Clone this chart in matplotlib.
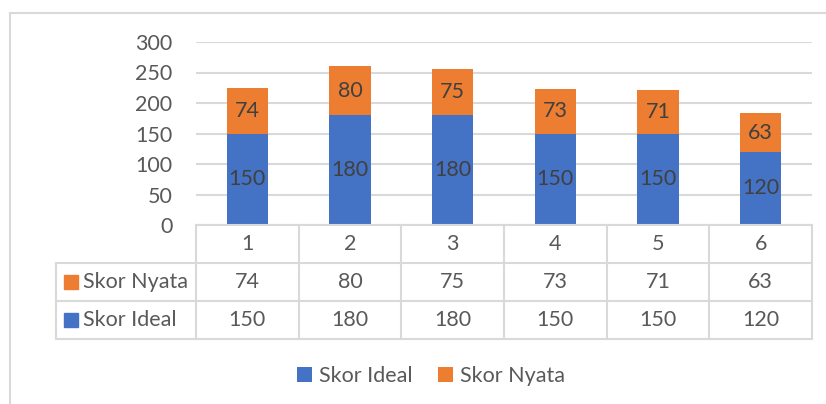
import matplotlib.pyplot as plt
from matplotlib.patches import Rectangle
from matplotlib.lines import Line2D

# data
categories = ["1", "2", "3", "4", "5", "6"]
skor_ideal = [150, 180, 180, 150, 150, 120]
skor_nyata = [74, 80, 75, 73, 71, 63]

BLUE = "#4472C4"
ORANGE = "#ED7D31"
GRID = "#D9D9D9"
TXT = "#595959"
LBL = "#404040"
FS = 15.5

plt.rcParams["font.family"] = ["Lato", "DejaVu Sans"]

W, H = 826, 404
fig = plt.figure(figsize=(W / 100, H / 100), dpi=100)


def box(x0, y0, x1, y1):
    # pixel box (top-left origin) -> figure fraction rect
    return [x0 / W, 1 - y1 / H, (x1 - x0) / W, (y1 - y0) / H]


# outer chart border (cut off at right and bottom)
fig.add_artist(Line2D([10 / W, 1], [1 - 13 / H] * 2, color=GRID, lw=1.5))
fig.add_artist(Line2D([10 / W] * 2, [0, 1 - 13 / H], color=GRID, lw=1.5))

# bars
ax = fig.add_axes(box(196, 42, 812, 225))
x = list(range(len(categories)))
b1 = ax.bar(x, skor_ideal, width=0.4, color=BLUE, label="Skor Ideal", zorder=3)
b2 = ax.bar(x, skor_nyata, width=0.4, bottom=skor_ideal, color=ORANGE,
            label="Skor Nyata", zorder=3)
ax.bar_label(b1, label_type="center", fontsize=FS, color=LBL)
ax.bar_label(b2, label_type="center", fontsize=FS, color=LBL)

ax.set_xlim(-0.5, len(categories) - 0.5)
ax.set_ylim(0, 300)
ax.set_yticks(range(0, 301, 50))
ax.yaxis.grid(True, color=GRID, lw=1.5, zorder=0)
ax.set_xticks([])
ax.tick_params(axis="y", length=0, labelsize=FS, labelcolor=TXT, pad=17)
for s in ax.spines.values():
    s.set_visible(False)

# data table below the plot
tb = fig.add_axes(box(196, 225, 812, 339))
tb.set_xlim(-0.5, len(categories) - 0.5)
tb.set_ylim(3, 0)
tb.axis("off")
left = -0.5 - (196 - 56) / (616 / len(categories))

kw = dict(color=GRID, lw=1.5, clip_on=False)
tb.plot([-0.5, 5.5], [0, 0], **kw)
for yy in [1, 2, 3]:
    tb.plot([left, 5.5], [yy, yy], **kw)
for xx in [i - 0.5 for i in range(len(categories) + 1)]:
    tb.plot([xx, xx], [0, 3], **kw)
tb.plot([left, left], [1, 3], **kw)

rows = [("Skor Nyata", ORANGE, skor_nyata), ("Skor Ideal", BLUE, skor_ideal)]
for i, c in enumerate(categories):
    tb.text(i, 0.5, c, ha="center", va="center", fontsize=FS, color=TXT)
for r, (name, col, vals) in enumerate(rows, start=1):
    for i, v in enumerate(vals):
        tb.text(i, r + 0.5, str(v), ha="center", va="center", fontsize=FS, color=TXT)
    tb.add_patch(Rectangle((left + 0.08, r + 0.32), 0.135, 0.37, color=col,
                           clip_on=False))
    tb.text(left + 0.265, r + 0.5, name, ha="left", va="center", fontsize=FS,
            color=TXT, clip_on=False)

# legend
fig.legend(handles=[b1, b2], loc="center", bbox_to_anchor=(431 / W, 1 - 376 / H),
           ncol=2, frameon=False, fontsize=FS, labelcolor=TXT,
           handlelength=0.7, handleheight=0.7, handletextpad=0.3, columnspacing=1.2)

fig.savefig("out.png", dpi=100)
